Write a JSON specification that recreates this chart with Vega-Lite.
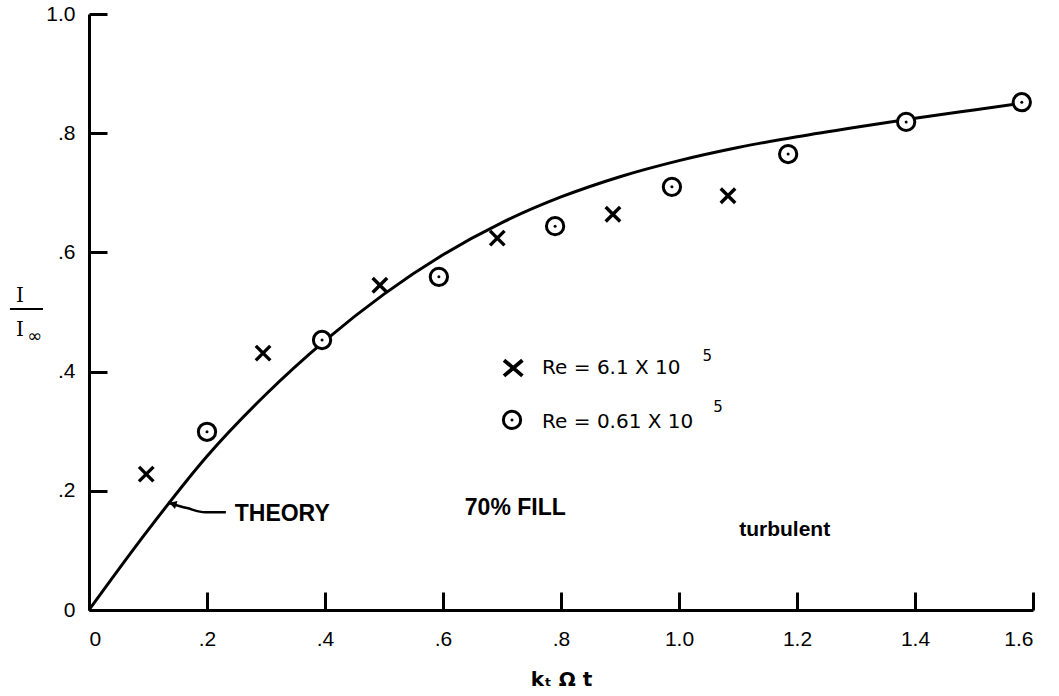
{
  "$schema": "https://vega.github.io/schema/vega-lite/v6.json",
  "width": 944,
  "height": 596,
  "autosize": "none",
  "padding": {"left": 89, "top": 14, "right": 26, "bottom": 86},
  "background": "white",
  "config": {
    "view": {"stroke": null},
    "axis": {"grid": false, "domainColor": "black", "domainWidth": 3, "tickColor": "black", "tickWidth": 3, "labelColor": "black", "labelFont": "Liberation Sans", "labelFontSize": 21, "titleColor": "black"}
  },
  "datasets": {
    "theory": [
      {"x": 0, "y": 0}, {"x": 0.1, "y": 0.134}, {"x": 0.2, "y": 0.258}, {"x": 0.3, "y": 0.362},
      {"x": 0.4, "y": 0.452}, {"x": 0.5, "y": 0.53}, {"x": 0.6, "y": 0.596}, {"x": 0.7, "y": 0.65},
      {"x": 0.8, "y": 0.693}, {"x": 0.9, "y": 0.727}, {"x": 1.0, "y": 0.754}, {"x": 1.1, "y": 0.776},
      {"x": 1.2, "y": 0.794}, {"x": 1.3, "y": 0.81}, {"x": 1.4, "y": 0.825}, {"x": 1.5, "y": 0.839},
      {"x": 1.58, "y": 0.85}
    ],
    "highRe": [
      {"x": 0.097, "y": 0.228}, {"x": 0.295, "y": 0.431}, {"x": 0.493, "y": 0.545},
      {"x": 0.692, "y": 0.624}, {"x": 0.888, "y": 0.664}, {"x": 1.083, "y": 0.695}
    ],
    "legendX": [{"x": 0.719, "y": 0.406}],
    "lowRe": [
      {"x": 0.2, "y": 0.299}, {"x": 0.395, "y": 0.453}, {"x": 0.593, "y": 0.559}, {"x": 0.79, "y": 0.644},
      {"x": 0.988, "y": 0.71}, {"x": 1.185, "y": 0.765}, {"x": 1.385, "y": 0.819}, {"x": 1.581, "y": 0.852},
      {"x": 0.717, "y": 0.319}
    ],
    "leader": [
      {"x": 0.134, "y": 0.18}, {"x": 0.166, "y": 0.171}, {"x": 0.197, "y": 0.164}, {"x": 0.232, "y": 0.164}
    ],
    "arrow": [{"x": 0.142, "y": 0.178}],
    "bigLabels": [
      {"x": 0.247, "y": 0.161, "text": "THEORY"},
      {"x": 0.637, "y": 0.171, "text": "70% FILL"}
    ],
    "smallLabels": [{"x": 1.102, "y": 0.134, "text": "turbulent"}],
    "legendText": [
      {"x": 0.768, "y": 0.406, "text": "Re = 6.1  X  10"},
      {"x": 0.768, "y": 0.316, "text": "Re = 0.61  X  10"}
    ],
    "superscripts": [
      {"x": 1.04, "y": 0.426, "text": "5"},
      {"x": 1.058, "y": 0.341, "text": "5"}
    ],
    "yTitle": [
      {"x": -0.117, "y": 0.527, "text": "I"},
      {"x": -0.117, "y": 0.47, "text": "I"}
    ],
    "yTitleSub": [{"x": -0.092, "y": 0.458, "text": "∞"}],
    "fracBar": [{"x": -0.134, "x2": -0.078, "y": 0.505}]
  },
  "encoding": {
    "x": {"field": "x", "type": "quantitative", "scale": {"domain": [0, 1.6], "nice": false, "zero": false},
      "axis": {"values": [0, 0.2, 0.4, 0.6, 0.8, 1.0, 1.2, 1.4, 1.6], "tickSize": -18, "labelPadding": 36,
        "labelExpr": "datum.value == 0 ? '0' : (datum.value < 1 ? replace(format(datum.value, '.1f'), '0.', '.') : format(datum.value, '.1f'))",
        "title": "kₜ Ω t", "titleFont": "DejaVu Sans", "titleFontSize": 20, "titleFontWeight": "bold", "titlePadding": 20}},
    "y": {"field": "y", "type": "quantitative", "scale": {"domain": [0, 1.0], "nice": false, "zero": false},
      "axis": {"values": [0, 0.2, 0.4, 0.6, 0.8, 1.0], "tickSize": -18, "labelPadding": 32,
        "labelExpr": "datum.value == 0 ? '0' : (datum.value < 1 ? replace(format(datum.value, '.1f'), '0.', '.') : format(datum.value, '.1f'))",
        "title": null}}
  },
  "layer": [
    {"data": {"name": "theory"}, "mark": {"type": "line", "color": "black", "strokeWidth": 3, "interpolate": "monotone", "clip": false}},
    {"data": {"name": "leader"}, "mark": {"type": "line", "color": "black", "strokeWidth": 2.5, "interpolate": "monotone"}},
    {"data": {"name": "arrow"}, "mark": {"type": "point", "shape": "triangle-left", "filled": true, "color": "black", "size": 70, "angle": 17, "opacity": 1}},
    {"data": {"name": "highRe"}, "mark": {"type": "point", "shape": "M-1,-1L1,1M-1,1L1,-1", "filled": false, "stroke": "black", "strokeWidth": 3.4, "size": 210, "opacity": 1}},
    {"data": {"name": "legendX"}, "mark": {"type": "point", "shape": "M-1,-0.85L1,0.85M-1,0.85L1,-0.85", "filled": false, "stroke": "black", "strokeWidth": 3.8, "size": 340, "opacity": 1}},
    {"data": {"name": "lowRe"}, "mark": {"type": "point", "shape": "circle", "filled": true, "fill": "white", "stroke": "black", "strokeWidth": 3, "size": 300, "opacity": 1}},
    {"data": {"name": "lowRe"}, "mark": {"type": "point", "shape": "circle", "filled": true, "color": "black", "size": 9, "opacity": 1}},
    {"data": {"name": "bigLabels"}, "mark": {"type": "text", "align": "left", "baseline": "middle", "font": "Liberation Sans", "fontWeight": "bold", "fontSize": 23, "color": "black"}, "encoding": {"text": {"field": "text"}}},
    {"data": {"name": "smallLabels"}, "mark": {"type": "text", "align": "left", "baseline": "middle", "font": "Liberation Sans", "fontWeight": "bold", "fontSize": 21, "color": "black"}, "encoding": {"text": {"field": "text"}}},
    {"data": {"name": "legendText"}, "mark": {"type": "text", "align": "left", "baseline": "middle", "font": "DejaVu Sans", "fontSize": 20, "color": "black"}, "encoding": {"text": {"field": "text"}}},
    {"data": {"name": "superscripts"}, "mark": {"type": "text", "align": "left", "baseline": "middle", "font": "DejaVu Sans", "fontSize": 15, "color": "black"}, "encoding": {"text": {"field": "text"}}},
    {"data": {"name": "yTitle"}, "mark": {"type": "text", "align": "center", "baseline": "middle", "font": "DejaVu Serif", "fontSize": 20, "color": "black", "clip": false}, "encoding": {"text": {"field": "text"}}},
    {"data": {"name": "yTitleSub"}, "mark": {"type": "text", "align": "center", "baseline": "middle", "font": "DejaVu Sans", "fontSize": 18, "color": "black"}, "encoding": {"text": {"field": "text"}}},
    {"data": {"name": "fracBar"}, "mark": {"type": "rule", "color": "black", "strokeWidth": 2}, "encoding": {"x2": {"field": "x2"}}}
  ]
}
